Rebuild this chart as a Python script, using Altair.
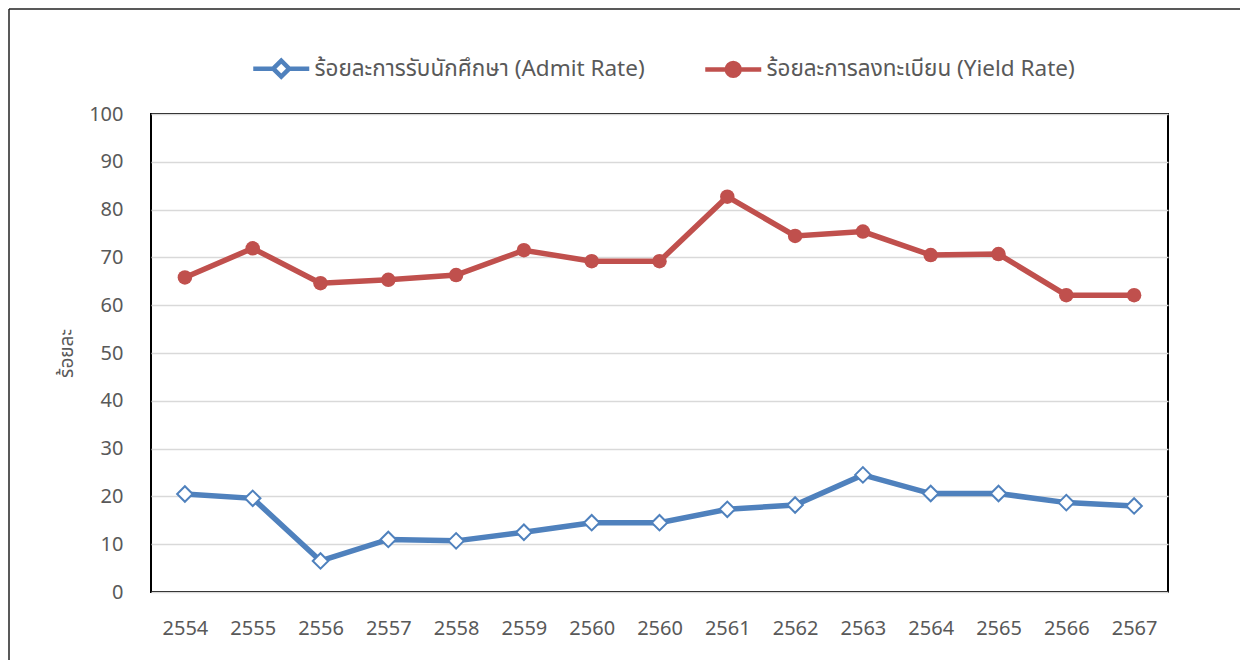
import altair as alt
import pandas as pd

years = ["2554", "2555", "2556", "2557", "2558", "2559", "2560", "2560",
         "2561", "2562", "2563", "2564", "2565", "2566", "2567"]
admit_rate = [20.5, 19.6, 6.5, 11.0, 10.7, 12.5, 14.5, 14.5,
              17.3, 18.2, 24.5, 20.6, 20.6, 18.7, 18.0]
yield_rate = [65.8, 71.9, 64.6, 65.3, 66.3, 71.5, 69.2, 69.2,
              82.7, 74.5, 75.4, 70.5, 70.7, 62.1, 62.1]
series_names = ["ร้อยละการรับนักศึกษา (Admit Rate)", "ร้อยละการลงทะเบียน (Yield Rate)"]
series_colors = ["#4F81BD", "#C0504D"]
y_title = "ร้อยละ"

rows = []
for i, y in enumerate(years):
    rows.append({"i": i, "year": y, "series": series_names[0], "value": admit_rate[i]})
    rows.append({"i": i, "year": y, "series": series_names[1], "value": yield_rate[i]})
df = pd.DataFrame(rows)

FONT = "Noto Sans, Noto Sans Thai, Tahoma, sans-serif"
GRAY = "#595959"
W, H = 1017, 478

label_expr = "[" + ",".join("'%s'" % y for y in years) + "][datum.value]"

x_enc = alt.X("i:O", scale=alt.Scale(paddingInner=0, paddingOuter=0.5, padding=0.5),
              axis=alt.Axis(title=None, labelExpr=label_expr, labelAngle=0, ticks=False,
                            domain=False, labelPadding=26, labelFontSize=20,
                            labelColor=GRAY, labelFont=FONT))
y_enc = alt.Y("value:Q", scale=alt.Scale(domain=[0, 100], nice=False),
              axis=alt.Axis(title=y_title, values=list(range(0, 101, 10)), ticks=False,
                            domain=False, labelPadding=28, labelFontSize=20,
                            labelColor=GRAY, labelFont=FONT, gridColor="#D9D9D9",
                            gridWidth=1.5, titleFontSize=19, titleColor=GRAY,
                            titleFont=FONT, titleFontWeight="normal", titlePadding=12))

base = alt.Chart(df)

blue = base.transform_filter(alt.datum.series == series_names[0])
red = base.transform_filter(alt.datum.series == series_names[1])

blue_line = blue.mark_line(color=series_colors[0], strokeWidth=5.5).encode(x=x_enc, y=y_enc)
red_line = red.mark_line(color=series_colors[1], strokeWidth=5.5).encode(x=x_enc, y=y_enc)
blue_pts = blue.mark_point(shape="diamond", size=240, filled=True, fill="white",
                           stroke=series_colors[0], strokeWidth=2, opacity=1).encode(x=x_enc, y=y_enc)
red_pts = red.mark_point(shape="circle", size=210, filled=True, color=series_colors[1],
                         opacity=1).encode(x=x_enc, y=y_enc)

legend_diamond = "M-3.5,0L-1,0M1,0L3.5,0M-1,0L0,-1L1,0L0,1Z"
legend_circle = "M-3.5,0L-0.8,0A0.8,0.8 0 1,1 0.8,0L3.5,0M0.8,0A0.8,0.8 0 1,1 -0.8,0"

legend_layer = base.mark_point(opacity=0, strokeWidth=3).encode(
    x=x_enc, y=y_enc,
    color=alt.Color("series:N", scale=alt.Scale(domain=series_names, range=series_colors),
                    legend=alt.Legend(title=None, orient="none", direction="horizontal",
                                      legendX=119, legendY=-57, symbolSize=256,
                                      symbolStrokeWidth=4.5, symbolOpacity=1,
                                      labelFontSize=22.5, labelColor=GRAY, labelFont=FONT,
                                      labelOffset=22, columnPadding=51, labelLimit=600)),
    fill=alt.Fill("series:N", scale=alt.Scale(domain=series_names, range=["white", series_colors[1]]),
                  legend=alt.Legend(title=None)),
    shape=alt.Shape("series:N", scale=alt.Scale(domain=series_names, range=[legend_diamond, legend_circle]),
                    legend=alt.Legend(title=None)),
)

one = pd.DataFrame({"a": [0]})
frame_top = alt.Chart(one).mark_rule(stroke="#222222", strokeWidth=1.5).encode(
    x=alt.value(-142), x2=alt.value(1090), y=alt.value(-105))
frame_left = alt.Chart(one).mark_rule(stroke="#222222", strokeWidth=1.5).encode(
    x=alt.value(-142), y=alt.value(-105), y2=alt.value(560))

chart = alt.layer(frame_top, frame_left, legend_layer, blue_line, red_line, blue_pts, red_pts).properties(
    width=W, height=H,
    autosize=alt.AutoSizeParams(type="none"),
    padding={"left": 143, "top": 106, "right": 72, "bottom": 68},
    background="white",
).configure(font=FONT).configure_view(stroke="black", strokeWidth=2)

chart.save("out.html", embed_options={"renderer": "svg", "actions": False})
